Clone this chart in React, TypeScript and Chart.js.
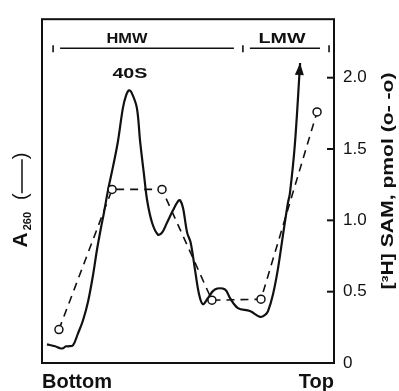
import React, { useEffect, useRef } from "react";
import { Chart, registerables } from "chart.js";

Chart.register(...registerables);

// Gradient position (0 = bottom of tube, 100 = top)
const solidX = [1.7, 4.5, 6.2, 7.2, 8.2, 8.9, 10.6, 12.3, 14.0, 15.8, 17.5, 18.8, 20.2, 21.2, 22.6, 24.3, 26.0, 27.7, 28.8, 29.8, 30.8, 32.5, 33.6, 34.9, 36.0, 37.7, 39.7, 41.1, 42.8, 44.9, 46.6, 47.3, 48.3, 49.7, 50.9, 52.4, 53.8, 55.1, 56.8, 59.2, 62.7, 64.4, 67.1, 71.2, 74.7, 76.4, 77.4, 79.1, 80.8, 82.5, 84.2, 84.9, 86.6, 88.4];
// A260 (plotted on the same vertical range as the right axis)
const solidY = [0.131, 0.117, 0.103, 0.103, 0.117, 0.117, 0.124, 0.206, 0.296, 0.433, 0.619, 0.790, 0.948, 1.052, 1.210, 1.375, 1.553, 1.787, 1.876, 1.911, 1.890, 1.787, 1.553, 1.326, 1.141, 0.983, 0.900, 0.914, 0.983, 1.072, 1.134, 1.141, 1.086, 0.914, 0.845, 0.653, 0.481, 0.412, 0.454, 0.515, 0.515, 0.454, 0.385, 0.364, 0.323, 0.337, 0.364, 0.481, 0.660, 0.893, 1.120, 1.189, 1.533, 2.103];

// [3H] SAM, pmol
const samX = [5.8, 24.0, 41.1, 58.2, 75.0, 94.2];
const samY = [0.234, 1.217, 1.217, 0.44, 0.447, 1.76];

const yTicks = [0, 0.5, 1.0, 1.5, 2.0];
const yMin = 0;
const yMax = 2.41;

// Region brackets (gradient position units)
const regionBounds = [3.8, 68.8, 98.3];
const regionLabels = ["HMW", "LMW"];

const INK = "#111";
const FONT = "'Liberation Sans', Arial, sans-serif";

function stretchText(ctx: CanvasRenderingContext2D, text: string, x: number, y: number, font: string, width: number) {
  ctx.save();
  ctx.font = font;
  const w = ctx.measureText(text).width;
  const sx = width / w;
  ctx.translate(x, y);
  ctx.scale(sx, 1);
  ctx.textAlign = "center";
  ctx.fillText(text, 0, 0);
  ctx.restore();
}

const decor = {
  id: "decor",
  afterDraw(chart: any) {
    const ctx: CanvasRenderingContext2D = chart.ctx;
    const { left, right, top, bottom } = chart.chartArea;
    const xs = chart.scales.x;
    const ys = chart.scales.y;
    ctx.save();
    ctx.strokeStyle = INK;
    ctx.fillStyle = INK;
    // frame
    ctx.lineWidth = 2;
    ctx.strokeRect(left, top, right - left, bottom - top);
    // inner ticks on right axis
    yTicks.forEach((v) => {
      if (v === 0) return;
      const y = ys.getPixelForValue(v);
      ctx.beginPath();
      ctx.moveTo(right - 7, y);
      ctx.lineTo(right, y);
      ctx.stroke();
    });
    // arrow head at end of A260 trace
    const meta = chart.getDatasetMeta(1);
    const n = meta.data.length;
    const p1 = meta.data[n - 1];
    const p0 = meta.data[n - 2];
    const ang = Math.atan2(p1.y - p0.y, p1.x - p0.x);
    const L = 12, W = 4.5;
    ctx.beginPath();
    ctx.moveTo(p1.x, p1.y);
    ctx.lineTo(p1.x - L * Math.cos(ang) + W * Math.sin(ang), p1.y - L * Math.sin(ang) - W * Math.cos(ang));
    ctx.lineTo(p1.x - L * Math.cos(ang) - W * Math.sin(ang), p1.y - L * Math.sin(ang) + W * Math.cos(ang));
    ctx.closePath();
    ctx.fill();
    // region brackets
    const lineY = ys.getPixelForValue(2.206);
    ctx.lineWidth = 1.6;
    regionBounds.forEach((b) => {
      const x = xs.getPixelForValue(b);
      ctx.beginPath();
      ctx.moveTo(x, lineY - 3);
      ctx.lineTo(x, lineY + 4);
      ctx.stroke();
    });
    for (let i = 0; i < regionLabels.length; i++) {
      const a = xs.getPixelForValue(regionBounds[i]);
      const b = xs.getPixelForValue(regionBounds[i + 1]);
      ctx.beginPath();
      ctx.moveTo(a + 7, lineY);
      ctx.lineTo(b - 9, lineY);
      ctx.stroke();
    }
    ctx.textBaseline = "alphabetic";
    stretchText(ctx, "HMW", xs.getPixelForValue(29.1), ys.getPixelForValue(2.245), `bold 14px ${FONT}`, 41);
    stretchText(ctx, "LMW", xs.getPixelForValue(82.2), ys.getPixelForValue(2.245), `bold 14px ${FONT}`, 47);
    stretchText(ctx, "40S", xs.getPixelForValue(30.1), ys.getPixelForValue(1.995), `bold 15px ${FONT}`, 35);
    // bottom labels
    ctx.font = `bold 20px ${FONT}`;
    ctx.textAlign = "left";
    ctx.fillText("Bottom", left, 388);
    ctx.textAlign = "right";
    ctx.fillText("Top", right, 388);
    // left title: A260 (—)
    ctx.save();
    ctx.translate(21, 200);
    ctx.rotate(-Math.PI / 2);
    ctx.textBaseline = "middle";
    ctx.textAlign = "left";
    const fA = `bold 21px ${FONT}`;
    const fS = `bold 11px ${FONT}`;
    const fP = `20px ${FONT}`;
    ctx.font = fA; const wA = ctx.measureText("A").width;
    ctx.font = fS; const wS = ctx.measureText("260").width;
    ctx.font = fP; const wP = ctx.measureText("(").width;
    const gap = 12;
    const dashLen = 34;
    ctx.font = fP; const wC = ctx.measureText(")").width;
    const total = wA + 2 + wS + gap + wP + dashLen + wC;
    let cx = -total / 2;
    ctx.font = fA; ctx.fillText("A", cx, 0); cx += wA + 2;
    ctx.font = fS; ctx.fillText("260", cx, 7); cx += wS + gap;
    ctx.font = fP; ctx.fillText("(", cx, 0); cx += wP;
    ctx.lineWidth = 1.5;
    ctx.beginPath(); ctx.moveTo(cx, 1); ctx.lineTo(cx + dashLen, 1); ctx.stroke();
    cx += dashLen;
    ctx.fillText(")", cx, 0);
    ctx.restore();
    // right title
    ctx.save();
    ctx.translate(389, 181);
    ctx.rotate(-Math.PI / 2);
    ctx.textBaseline = "middle";
    stretchText(ctx, "[³H] SAM, pmol (o- -o)", 0, 0, `bold 16px ${FONT}`, 217);
    ctx.restore();
    ctx.restore();
  },
};

export default function App() {
  const ref = useRef<HTMLCanvasElement | null>(null);
  useEffect(() => {
    if (!ref.current) return;
    const chart = new Chart(ref.current, {
      type: "line",
      data: {
        datasets: [
          {
            label: "[3H] SAM",
            data: samX.map((x, i) => ({ x, y: samY[i] })),
            borderColor: INK,
            borderWidth: 1.6,
            borderDash: [8, 6],
            pointRadius: 4,
            pointBackgroundColor: "#fff",
            pointBorderColor: INK,
            pointBorderWidth: 1.5,
            tension: 0,
            fill: false,
          },
          {
            label: "A260",
            data: solidX.map((x, i) => ({ x, y: solidY[i] })),
            borderColor: INK,
            borderWidth: 2.2,
            pointRadius: 0,
            tension: 0.35,
            fill: false,
          },
        ],
      },
      options: {
        animation: false,
        responsive: false,
        layout: { padding: { left: 42, top: 13, bottom: 28, right: 0 } },
        plugins: { legend: { display: false }, tooltip: { enabled: false } },
        scales: {
          x: { type: "linear", min: 0, max: 100, display: false },
          y: {
            type: "linear",
            position: "right",
            min: yMin,
            max: yMax,
            afterFit: (s: any) => { s.width = 65; },
            afterBuildTicks: (s: any) => { s.ticks = yTicks.map((v) => ({ value: v })); },
            grid: { drawOnChartArea: false, drawTicks: false },
            border: { display: false },
            ticks: {
              padding: 9,
              color: INK,
              font: { family: FONT, size: 17 },
              callback: (v: any) => (v === 0 ? "0" : Number(v).toFixed(1)),
            },
          },
        },
      },
      plugins: [decor],
    });
    return () => chart.destroy();
  }, []);
  return (
    <div style={{ position: "fixed", left: 0, top: 0, width: 399, height: 391, background: "#fff" }}>
      <canvas ref={ref} width={399} height={391} style={{ display: "block" }} />
    </div>
  );
}
